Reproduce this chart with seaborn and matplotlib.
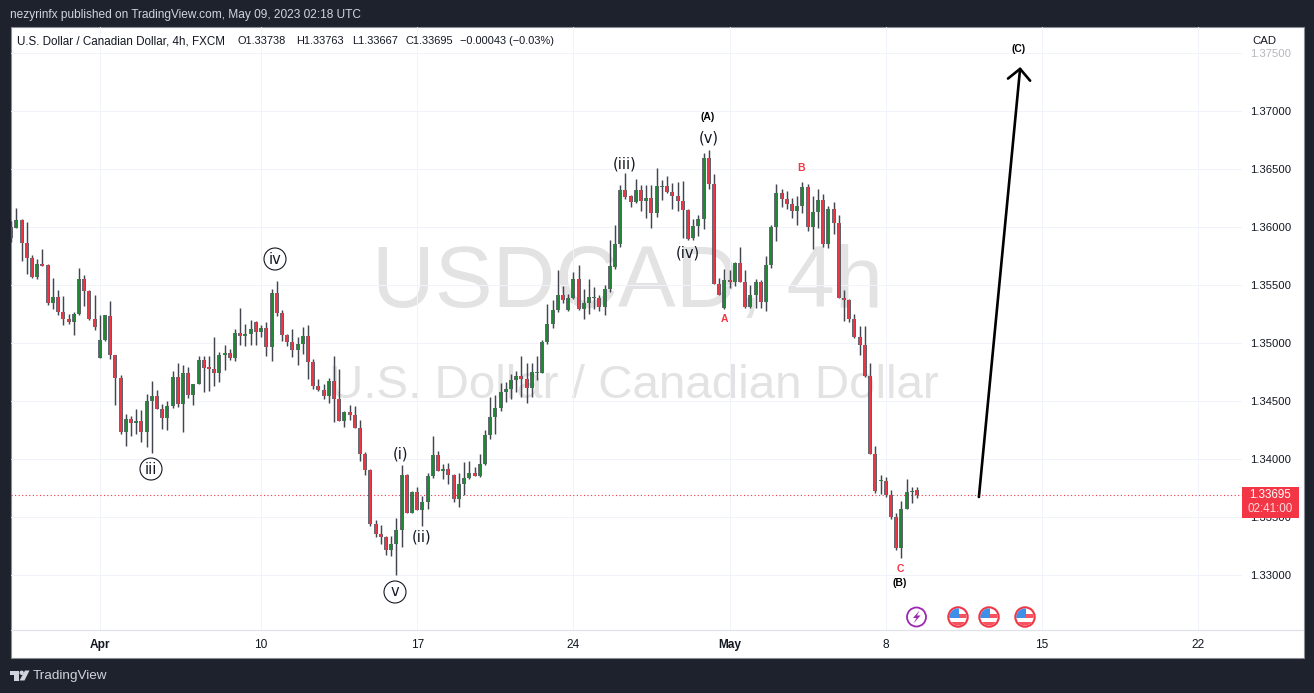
import numpy as np
import pandas as pd
import matplotlib
matplotlib.use('Agg')
import matplotlib.pyplot as plt
from matplotlib.patches import Rectangle, Circle, Polygon
import seaborn as sns

# USD/CAD 4h candles, prices in points (1e-5)
opens = [
    135908,135994,136060,135868,135738,135569,135687,135672,135347,135402,
    135273,135212,135184,135250,135551,135454,135212,134873,135025,135238,
    134902,134704,134235,134350,134313,134333,134235,134505,134548,134436,
    134356,134456,134712,134476,134747,134557,134652,134859,134793,134781,
    134744,134899,134919,134873,135092,135063,135080,135186,135097,135135,
    134968,135436,135264,135074,135014,134942,134994,135060,134842,134635,
    134600,134545,134678,134523,134330,134410,134385,134273,134048,133910,
    133445,133359,133333,133218,133270,133390,133867,133540,133721,133563,
    133632,133856,134040,133902,133919,133867,133660,133787,133841,133885,
    133856,133959,134209,134367,134439,134580,134609,134686,134721,134695,
    134615,134747,134747,135011,135169,135284,135413,135284,135390,135557,
    135299,135347,135390,135393,135313,135468,135658,135853,136325,136267,
    136218,136325,136227,136255,136123,136348,136359,136307,136273,136230,
    136152,135905,136011,136072,136600,136376,135514,135304,135549,135528,
    135692,135528,135313,135419,135531,135356,135678,136003,136299,136247,
    136204,136141,136184,136350,136003,136132,136238,135856,136161,136040,
    135393,135376,135212,135057,134988,134721,134048,133815,133813,133692,
    133505,133235,133574,133721,133738]
highs = [
    136054,136164,136069,136043,135764,135724,135810,135681,135560,135457,
    135405,135250,135267,135646,135586,135457,135413,135241,135247,135362,
    134902,134729,134387,134370,134436,134422,134560,134672,134594,134474,
    134500,134758,134827,134810,134793,134652,134888,134888,134888,135051,
    134922,134982,134954,135126,135301,135169,135198,135189,135155,135186,
    135465,135534,135284,135083,135120,135054,135140,135155,134867,134695,
    134652,134701,134888,134781,134413,134471,134462,134336,134063,133919,
    133473,133436,133341,133336,133491,133948,133876,133724,133761,133683,
    133882,134198,134071,133956,133965,133876,133882,133974,133988,133931,
    134045,134250,134534,134557,134660,134666,134732,134761,134893,134830,
    134830,134893,135031,135336,135370,135629,135491,135428,135615,135672,
    135471,135557,135485,135413,135500,135888,136017,136368,136471,136276,
    136419,136368,136368,136362,136508,136405,136442,136385,136391,136396,
    136161,136074,136103,136641,136669,136462,135563,135638,135629,135701,
    135827,135635,135505,135551,135543,135755,136017,136371,136327,136310,
    136255,136267,136388,136371,136267,136327,136284,136181,136221,136103,
    135457,135385,135255,135146,135146,134833,134112,133867,133847,133732,
    133540,133637,133827,133758,133763]
lows = [
    135873,135994,135707,135595,135560,135554,135664,135327,135296,135244,
    135158,135169,135069,135241,135319,135198,135112,134873,135017,134862,
    134465,134215,134112,134198,134221,134146,134106,134054,134433,134258,
    134250,134439,134451,134235,134528,134465,134646,134580,134586,134629,
    134663,134767,134859,134844,134982,134977,134982,134982,135054,134888,
    134844,135232,135017,134977,134882,134810,134911,134689,134609,134586,
    134517,134485,134321,134330,134278,134336,134270,133985,133862,133425,
    133330,133267,133172,133169,133002,133244,133540,133540,133560,133422,
    133571,133839,133902,133833,133784,133632,133589,133689,133830,133856,
    133847,133951,134175,134215,134419,134494,134517,134580,134537,134485,
    134537,134681,134747,134997,135132,135270,135347,135276,135385,135284,
    135212,135255,135299,135276,135241,135442,135643,135830,136241,136175,
    136212,136141,136077,135991,136089,136233,136299,136155,136138,135905,
    135888,135888,135928,135988,136327,135508,135413,135299,135477,135491,
    135528,135307,135301,135301,135301,135278,135652,135882,136175,136155,
    136080,136017,136123,135968,135813,135991,135830,135819,135939,135390,
    135192,135181,135048,134899,134709,134048,133709,133698,133675,133485,
    133215,133149,133574,133623,133667]
closes = [
    136000,136060,135868,135735,135569,135687,135666,135345,135402,135270,
    135209,135181,135255,135551,135451,135209,135140,135031,135241,134902,
    134701,134235,134350,134313,134333,134235,134505,134548,134433,134356,
    134462,134712,134476,134747,134557,134652,134859,134787,134778,134744,
    134902,134919,134876,135092,135063,135083,135126,135097,135135,134968,
    135436,135261,135072,135011,134942,134997,135060,134839,134629,134597,
    134545,134678,134520,134330,134410,134382,134270,134045,133908,133439,
    133356,133333,133221,133272,133393,133867,133540,133721,133563,133634,
    133859,134040,133902,133919,133864,133660,133790,133841,133885,133856,
    133962,134212,134367,134445,134583,134609,134686,134721,134692,134617,
    134755,134755,135014,135169,135290,135413,135370,135393,135557,135299,
    135350,135402,135402,135313,135471,135664,135859,136325,136261,136218,
    136325,136227,136255,136123,136353,136359,136304,136270,136227,136149,
    135902,136014,136074,136600,136376,135514,135419,135549,135528,135692,
    135528,135313,135419,135528,135356,135678,136003,136299,136247,136201,
    136141,136187,136350,136003,136135,136238,135856,136161,136037,135390,
    135373,135212,135054,134985,134718,134048,133726,133824,133689,133502,
    133232,133574,133721,133729,133695]

date_ticks = [17, 48, 78, 108, 138, 168, 198, 228]
date_labels = ['Apr', '10', '17', '24', 'May', '8', '15', '22']
price_ticks = [1.33, 1.335, 1.34, 1.345, 1.35, 1.355, 1.36, 1.365, 1.37, 1.375]
last_price = 1.33695
arrow_bars = [185.9, 193.85]
arrow_prices = [1.33675, 1.37382]

GREEN = '#1f8a33'
RED = '#f23645'
EDGE = '#434651'
DARK = '#1e222d'
GRID = '#f0f3fa'
WM = '#e3e3e3'
W, H = 1314, 693

sns.set_theme(style='whitegrid', rc={'grid.color': GRID, 'grid.linewidth': 0.72,
                                     'axes.edgecolor': 'white', 'axes.linewidth': 0})
plt.rcParams['font.family'] = ['Liberation Sans', 'DejaVu Sans']

df = pd.DataFrame({'bar': np.arange(len(opens)), 'open': opens, 'high': highs,
                   'low': lows, 'close': closes})
for c in ['open', 'high', 'low', 'close']:
    df[c] = df[c] / 1e5
df['dir'] = np.where(df['close'] >= df['open'], 'up', 'down')
wicks = df.melt(id_vars=['bar'], value_vars=['high', 'low'], value_name='price')
bodies = df.melt(id_vars=['bar', 'dir'], value_vars=['open', 'close'], value_name='price')

fig = plt.figure(figsize=(W / 100, H / 100), dpi=100, facecolor=DARK)

# background panel
bg = fig.add_axes([0, 0, 1, 1], zorder=0)
bg.set_xlim(0, W)
bg.set_ylim(H, 0)
bg.axis('off')
bg.add_patch(Rectangle((10.5, 27), 1293, 630.5, fc='white', ec='#8a8d96', lw=0.8))
bg.plot([11, 1303], [630, 630], color='#e0e3eb', lw=0.9)

# main chart
ax = fig.add_axes([11 / W, 1 - 630 / H, (1242 - 11) / W, (630 - 27) / H], zorder=1)
ax.patch.set_alpha(0)
sns.lineplot(data=wicks, x='bar', y='price', units='bar', estimator=None, sort=False,
             color=EDGE, lw=1.05, solid_capstyle='butt', ax=ax, zorder=3)
sns.lineplot(data=bodies, x='bar', y='price', units='bar', estimator=None, sort=False,
             color=EDGE, lw=2.6, solid_capstyle='butt', ax=ax, zorder=4)
sns.lineplot(data=bodies, x='bar', y='price', units='bar', hue='dir', estimator=None, sort=False,
             palette={'up': GREEN, 'down': RED}, lw=1.4, solid_capstyle='butt',
             legend=False, ax=ax, zorder=5)
sns.lineplot(x=[0, 240], y=[last_price, last_price], color=RED, lw=0.8, ls=(0, (1, 2.2)),
             errorbar=None, ax=ax, zorder=2)
ax.annotate('', xy=(arrow_bars[1], arrow_prices[1]), xytext=(arrow_bars[0], arrow_prices[0]),
            arrowprops=dict(arrowstyle='->,head_length=0.78,head_width=0.8', lw=1.9, color='black',
                            shrinkA=0, shrinkB=0, mutation_scale=10), zorder=6)

ax.set_xlim(-0.05, 236.45)
ax.set_ylim(1.325284, 1.37727)
ax.set_xlabel('')
ax.set_ylabel('')
ax.yaxis.tick_right()
ax.set_yticks(price_ticks)
ax.set_yticklabels(['%.5f' % p for p in price_ticks], fontsize=8.1, color='#131722')
ax.set_xticks(date_ticks)
ax.set_xticklabels(date_labels, fontsize=8.6, color='#131722')
ax.tick_params(axis='y', length=0, pad=6)
ax.tick_params(axis='x', length=0, pad=6.5)
for lab in ax.get_xticklabels():
    if lab.get_text() in ('Apr', 'May'):
        lab.set_fontweight('bold')
ax.get_yticklabels()[-1].set_color('#b5b7bd')
for s in ax.spines.values():
    s.set_visible(False)
ax.grid(True)
ax.set_axisbelow(True)

# overlay in pixel coordinates
ov = fig.add_axes([0, 0, 1, 1], zorder=2)
ov.set_xlim(0, W)
ov.set_ylim(H, 0)
ov.axis('off')
ov.patch.set_alpha(0)

# watermark goes behind the candles
bg.text(627, 285, 'USDCAD, 4h', fontsize=62.5, color=WM, ha='center', va='center', zorder=1)
bg.text(634, 386, 'U.S. Dollar / Canadian Dollar', fontsize=34.2, color=WM, ha='center', va='center', zorder=1)

ov.text(10, 15, 'nezyrinfx published on TradingView.com, May 09, 2023 02:18 UTC', fontsize=8.6,
        color='#d1d4dc', va='center')
ov.text(17, 41.5, 'U.S. Dollar / Canadian Dollar, 4h, FXCM', fontsize=8.4, color='#131722', va='center')
for txt, x in [('O1.33738', 238), ('H1.33763', 296), ('L1.33667', 352), ('C1.33695', 405),
               ('\u22120.00043 (\u22120.03%)', 460)]:
    ov.text(x, 41.5, txt, fontsize=7.9, color='#131722', va='center')
ov.text(1252, 41, 'CAD', fontsize=8.2, color='#131722', va='center')

# last price tag
ov.add_patch(Rectangle((1242, 487), 57, 31, fc=RED, ec='none'))
ov.text(1270, 495.5, '1.33695', fontsize=8.4, color='white', ha='center', va='center')
ov.text(1270, 509.5, '02:41:00', fontsize=8.4, color='#ffd9dc', ha='center', va='center')

# wave labels
for txt, x, y in [('(i)', 400, 454), ('(ii)', 422, 537), ('(iii)', 625, 164),
                  ('(iv)', 688, 253), ('(v)', 709, 138)]:
    ov.text(x, y, txt, fontsize=10.5, color='#131722', ha='center', va='center', family='DejaVu Sans')
for txt, x, y in [('iii', 151, 469), ('iv', 275, 259), ('v', 395, 592)]:
    ov.add_patch(Circle((x, y), 11, fc='white', ec='#131722', lw=0.8))
    ov.text(x, y, txt, fontsize=10.5, color='#131722', ha='center', va='center', family='DejaVu Sans')
for txt, x, y in [('(A)', 708, 117), ('(B)', 900, 583), ('(C)', 1019, 49)]:
    ov.text(x, y, txt, fontsize=7.5, color='black', fontweight='bold', ha='center', va='center')
for txt, x, y in [('A', 724, 319), ('B', 801, 168), ('C', 900, 569)]:
    ov.text(x, y, txt, fontsize=7.5, color=RED, fontweight='bold', ha='center', va='center')

# event icons
ov.add_patch(Circle((916.5, 617), 9.5, fc='white', ec='#9c27b0', lw=1.3))
ov.add_patch(Polygon([(919.5, 610.5), (913, 618), (916.5, 618), (913.5, 623.5), (920.5, 615.5),
                      (917, 615.5)], fc='#9c27b0', ec='none'))
for cx in [958, 989, 1025]:
    ov.add_patch(Circle((cx, 617), 9.7, fc='white', ec=RED, lw=1.5))
    inner = Circle((cx, 617), 8.6, transform=ov.transData)
    parts = [Rectangle((cx - 9, 614.3), 18, 4, fc='#f7525f', ec='none'),
             Rectangle((cx - 9, 621.7), 18, 5, fc='#f7525f', ec='none'),
             Rectangle((cx - 9, 608), 9.5, 10.3, fc='#3d8fe8', ec='none')]
    for p in parts:
        ov.add_patch(p)
        p.set_clip_path(inner)

# logo and footer
ov.add_patch(Polygon([(10, 670.5), (18.5, 670.5), (18.5, 680.5), (14, 680.5), (14, 675), (10, 675)],
                     fc='#d1d4dc', ec='none'))
ov.add_patch(Circle((21.7, 672.8), 2.2, fc='#d1d4dc', ec='none'))
ov.add_patch(Polygon([(25, 670.5), (29.5, 670.5), (24.5, 680.5), (19.5, 680.5)], fc='#d1d4dc', ec='none'))
ov.text(33, 676, 'TradingView', fontsize=9.7, color='#d1d4dc', va='center')

fig.savefig('out.png', dpi=100, facecolor=DARK)
